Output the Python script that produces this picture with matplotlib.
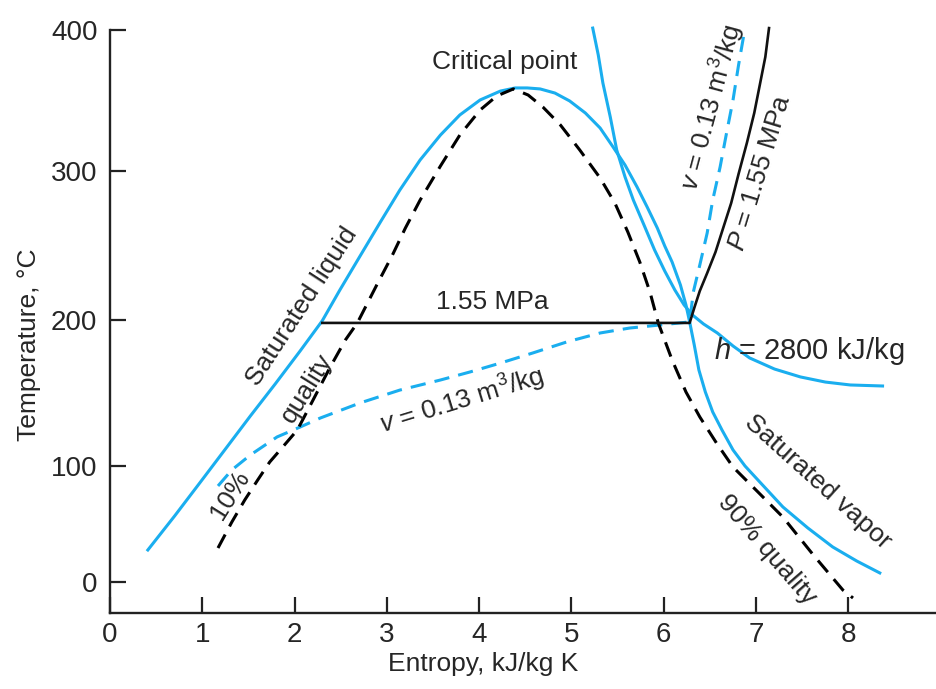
import numpy as np
import matplotlib
matplotlib.use("Agg")
import matplotlib.pyplot as plt

plt.rcParams['font.family'] = ['Liberation Sans', 'DejaVu Sans']
plt.rcParams['mathtext.fontset'] = 'custom'
plt.rcParams['mathtext.rm'] = 'Liberation Sans'
plt.rcParams['mathtext.it'] = 'Liberation Sans:italic'

# ---------------- data (entropy kJ/kg K, temperature C) ----------------
dome_s = [0.41, 0.70, 0.98, 1.25, 1.52, 1.79, 2.06, 2.30, 2.49, 2.71, 2.93, 3.14,
          3.36, 3.58, 3.79, 4.01, 4.23, 4.39, 4.52, 4.66, 4.82, 4.98, 5.15, 5.31,
          5.45, 5.58, 5.71, 5.82, 5.93, 6.01, 6.09, 6.18, 6.24, 6.28, 6.33, 6.38,
          6.45, 6.53, 6.63, 6.75, 6.88, 7.04, 7.29, 7.56, 7.83, 8.09, 8.34]
dome_T = [27.6, 56.9, 86.2, 111.6, 134.2, 156.2, 178.8, 199.5, 220.1, 243.0, 265.8, 287.2,
          307.8, 325.4, 339.6, 350.2, 356.5, 358.7, 358.7, 358.0, 355.1, 349.5, 341.0, 330.4,
          317.0, 304.2, 289.3, 275.8, 261.7, 249.7, 238.9, 223.5, 210.1, 198.7, 182.9, 165.8,
          150.7, 137.0, 124.7, 111.0, 100.0, 86.2, 64.7, 46.6, 30.2, 18.1, 7.8]

qual_s = [1.17, 1.32, 1.46, 1.60, 1.73, 1.89, 2.03, 2.20, 2.38, 2.55, 2.68, 2.89,
          3.06, 3.20, 3.36, 3.58, 3.79, 4.01, 4.19, 4.37, 4.53, 4.69, 4.88, 5.09,
          5.31, 5.47, 5.61, 5.74, 5.85, 5.94, 6.09, 6.24, 6.39, 6.57, 6.75, 7.02,
          7.29, 7.62, 7.94, 8.05]
qual_T = [29.3, 51.7, 70.7, 87.9, 102.7, 114.4, 124.7, 145.2, 167.1, 186.3, 198.0, 223.5,
          243.6, 261.7, 280.5, 303.5, 325.4, 343.1, 353.0, 358.0, 353.7, 345.2, 332.5, 314.8,
          295.3, 278.5, 259.1, 238.9, 218.8, 198.0, 172.6, 150.7, 133.6, 115.8, 99.1, 77.6,
          56.0, 23.3, -6.9, -13.8]

p_s = [2.30, 6.28, 6.33, 6.39, 6.47, 6.56, 6.64, 6.73, 6.81, 6.90, 6.98, 7.04, 7.10, 7.14]
p_T = [198.0, 198.0, 208.1, 219.5, 231.5, 245.6, 261.1, 278.5, 298.0, 319.8, 341.0,
       360.8, 380.6, 401.0]

v_s = [1.17, 1.32, 1.52, 1.81, 2.06, 2.28, 2.71, 3.14, 3.58, 3.90, 4.23, 4.58, 4.95,
       5.31, 5.63, 5.96, 6.28, 6.32, 6.39, 6.47, 6.53, 6.61, 6.68, 6.75, 6.81, 6.88]
v_T = [82.8, 96.6, 107.5, 119.9, 126.7, 132.9, 143.2, 152.0, 158.9, 164.4, 170.5, 177.4,
       185.0, 191.1, 194.5, 196.6, 198.7, 218.8, 236.9, 258.4, 280.5, 302.8, 326.9,
       350.2, 374.9, 401.0]

h_s = [5.23, 5.29, 5.34, 5.42, 5.49, 5.58, 5.67, 5.79, 5.90, 6.01, 6.12, 6.22, 6.31,
       6.43, 6.58, 6.75, 6.93, 7.20, 7.48, 7.75, 8.02, 8.37]
h_T = [401.0, 382.0, 362.2, 338.2, 314.8, 296.0, 280.5, 263.1, 247.0, 232.9, 220.1, 210.1,
       203.4, 197.3, 191.1, 182.2, 174.0, 166.4, 161.0, 157.5, 155.5, 154.8]

x_ticks = [0, 1, 2, 3, 4, 5, 6, 7, 8]
y_ticks = [0, 100, 200, 300, 400]

# ---------------- non-uniform temperature axis of the original ----------------
TK = np.array([-100, 0, 100, 200, 300, 400, 500], dtype=float)
PK = -np.array([698, 582, 466, 320, 171, 29.5, -112], dtype=float)

def fwd(t):
    return np.interp(t, TK, PK)

def inv(v):
    return np.interp(v, PK, TK)

BLUE = '#1aaeef'
INK = '#262626'
FS = 19
LW = 2.2

fig = plt.figure(figsize=(9.37, 6.89), dpi=100)
ax = fig.add_axes([110 / 937, 76.3 / 689, 827 / 937, 612.7 / 689])
ax.set_yscale('function', functions=(fwd, inv))
ax.set_xlim(0, 827 / 92.3)
ax.set_ylim(float(inv(-612.7)), float(inv(0.0)))

ax.plot(dome_s, dome_T, color=BLUE, lw=LW, zorder=3, solid_joinstyle='round')
ax.plot(h_s, h_T, color=BLUE, lw=LW, zorder=3, solid_joinstyle='round')
ax.plot(v_s, v_T, color=BLUE, lw=LW, ls=(0, (5, 3)), zorder=3)
ax.plot(qual_s, qual_T, color='black', lw=LW, ls=(0, (5, 3)), zorder=3)
ax.plot(p_s, p_T, color='#111111', lw=1.9, zorder=4, solid_joinstyle='round')

for sp in ['top', 'right']:
    ax.spines[sp].set_visible(False)
for sp in ['left', 'bottom']:
    ax.spines[sp].set_linewidth(1.7)
    ax.spines[sp].set_color('#222222')
ax.spines['left'].set_bounds(ax.get_ylim()[0], 400)

ax.set_xticks(x_ticks)
ax.set_yticks(y_ticks)
ax.tick_params(direction='in', length=11.5, width=1.6, color='#222222',
               labelsize=20, labelcolor=INK)
ax.tick_params(axis='y', pad=9)
ax.tick_params(axis='x', pad=7)
ax.minorticks_off()

ax.set_xlabel('Entropy, kJ/kg K', fontsize=FS, color=INK)
ax.set_ylabel('Temperature, °C', fontsize=FS, color=INK)
ax.xaxis.set_label_coords(0.451, -0.064)
ax.yaxis.set_label_coords(-0.083, 0.437)

tk = dict(fontsize=FS, color=INK, ha='center', va='center', zorder=5,
          rotation_mode='anchor')
ax.text(4.28, 377, 'Critical point', **tk)
ax.text(2.08, 209, 'Saturated liquid', rotation=57, **tk)
ax.text(2.13, 153, 'quality', rotation=58, **tk)
ax.text(1.30, 75, '10%', rotation=58, **tk)
ax.text(3.81, 144.5, r'$\it{v}$ = 0.13 m$^3$/kg', rotation=17, **tk)
ax.text(4.14, 212, '1.55 MPa', **tk)
ax.text(6.52, 345, r'$\it{v}$ = 0.13 m$^3$/kg', rotation=75, **tk)
ax.text(7.04, 299, r'$\it{P}$ = 1.55 MPa', rotation=73, **tk)
ax.text(7.58, 178.5, r'$\it{h}$ = 2800 kJ/kg', **dict(tk, fontsize=21))
ax.text(7.67, 86, 'Saturated vapor', rotation=-42, **tk)
ax.text(7.12, 27.6, '90% quality', rotation=-49, **tk)

fig.savefig('out.png', dpi=100)
